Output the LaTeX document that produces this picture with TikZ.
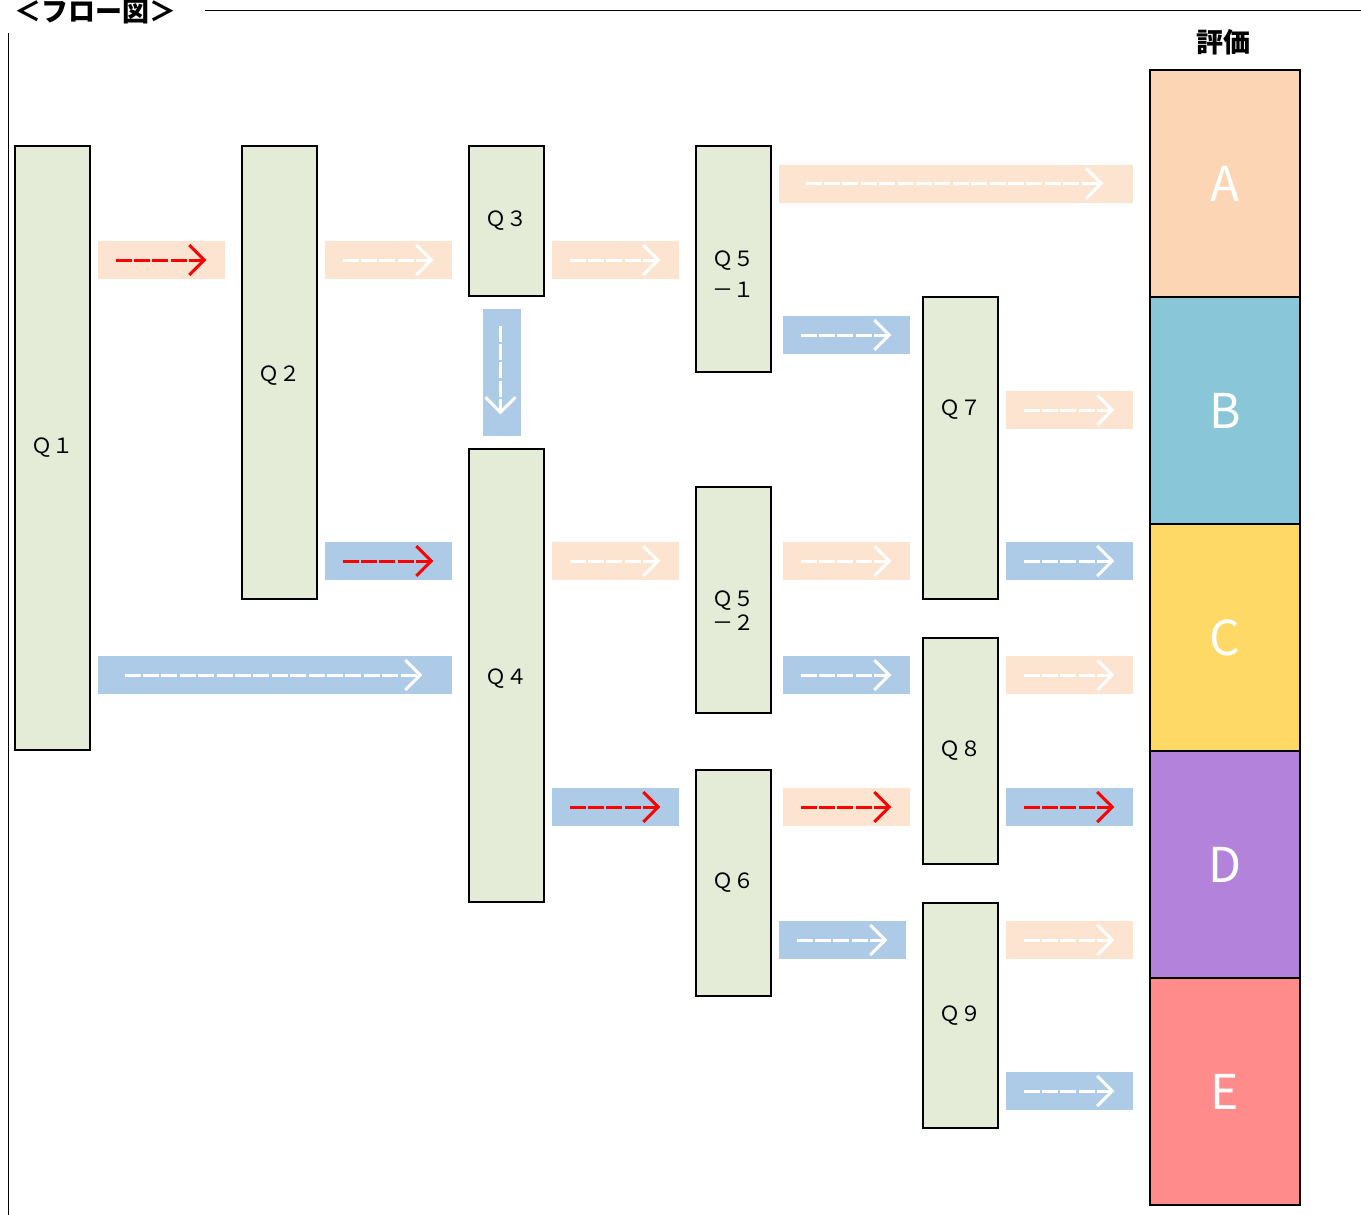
\documentclass[tikz,border=0pt]{standalone}
\usepackage{fontspec}
\setmainfont{Noto Sans CJK JP}
\usetikzlibrary{arrows.meta,calc}

\definecolor{qgreen}{HTML}{E4ECD7}
\definecolor{bandpeach}{HTML}{FCE4D1}
\definecolor{bandblue}{HTML}{ADCBE7}
\definecolor{evalA}{HTML}{FCD5B5}
\definecolor{evalB}{HTML}{88C6D8}
\definecolor{evalC}{HTML}{FFD966}
\definecolor{evalD}{HTML}{B383DC}
\definecolor{evalE}{HTML}{FF8B8A}

\tikzset{
  qbox/.style={draw=black, line width=0.6pt, fill=qgreen, minimum width=37.5pt, inner sep=0pt},
  qlabel/.style={font=\fontsize{10.5}{13}\selectfont, inner sep=0pt},
  evalbox/.style={draw=black, line width=0.7pt, minimum width=75pt, minimum height=113.5pt,
    inner sep=0pt, text=white, font=\fontsize{24}{28}\selectfont},
  peach/.style={fill=bandpeach},
  blueband/.style={fill=bandblue},
  flowarrow/.style={line width=1.5pt, dash pattern=on 8pt off 1.2pt,
    -{Straight Barb[length=7.5pt,width=15pt]}},
  longarrow/.style={shorten <=4.5pt, shorten >=5.5pt},
  headtext/.style={font=\bfseries\fontsize{13.5}{16}\selectfont, inner sep=0pt}
}

% band with dashed arrow between two boxes
% #1 left gap, #2 from, #3 to, #4 y, #5 band, #6 arrow
\newcommand{\flowband}[6][7]
{
\pgfmathsetmacro\rgap{23-#1}
\coordinate (fs) at ($(#2.east |- 0,#4)+(#1,0)$);
\coordinate (fe) at ($(#3.west |- 0,#4)+(-\rgap,0)$);
\fill[#5] ($(fs)+(0,-19)$) rectangle ($(fe)+(0,19)$);
\draw[flowarrow,#6] ($(fs)+(18,0)$) -- ($(fe)+(-19,0)$);
}

\begin{document}
\begin{tikzpicture}[x=0.5pt,y=-0.5pt]
\useasboundingbox (0,0) rectangle (1361,1215);

% frame
\node[headtext, anchor=west] (title) at (14,12) {＜フロー図＞};
\draw[line width=0.5pt] (205,10) -- (1361,10);
\draw[line width=0.5pt] (8,33) -- (8,1215);

% question boxes
\node[qbox, minimum height=302pt, label={[qlabel]center:Ｑ１}] (Q1) at (52.5,448) {};
\node[qbox, minimum height=226.5pt, label={[qlabel, yshift=-1.75pt]center:Ｑ２}] (Q2) at (279.5,372.5) {};
\node[qbox, minimum height=75pt, label={[qlabel]center:Ｑ３}] (Q3) at (506.5,221) {};
\node[qbox, minimum height=226.5pt, label={[qlabel, yshift=-1.75pt]center:Ｑ４}] (Q4) at (506.5,675.5) {};
\node[qbox, minimum height=113pt, label={[qlabel, align=center, yshift=-7.75pt,
  font=\fontsize{10.5}{15.5}\selectfont]center:{Ｑ５\\－１}}] (Q51) at (733.5,259) {};
\node[qbox, minimum height=113pt, label={[qlabel, align=center, yshift=-5.5pt,
  font=\fontsize{10.5}{12}\selectfont]center:{Ｑ５\\－２}}] (Q52) at (733.5,600) {};
\node[qbox, minimum height=113pt, label={[qlabel]center:Ｑ６}] (Q6) at (733.5,883) {};
\node[qbox, minimum height=151pt, label={[qlabel, yshift=19pt]center:Ｑ７}] (Q7) at (960.5,448) {};
\node[qbox, minimum height=113pt, label={[qlabel]center:Ｑ８}] (Q8) at (960.5,751) {};
\node[qbox, minimum height=112.5pt, label={[qlabel]center:Ｑ９}] (Q9) at (960.5,1015.5) {};

% evaluation
\node[headtext] (evalhead) at (1223,42) {評価};
\node[evalbox, fill=evalA] (A) at (1225,183.5) {A};
\node[evalbox, fill=evalB] (B) at (1225,410.5) {B};
\node[evalbox, fill=evalC] (C) at (1225,637.5) {C};
\node[evalbox, fill=evalD] (D) at (1225,864.5) {D};
\node[evalbox, fill=evalE] (E) at (1225,1091.5) {E};

% yes / no bands
\flowband{Q1}{Q2}{260}{peach}{red}
\flowband{Q2}{Q3}{260}{peach}{white}
\flowband{Q3}{Q51}{260}{peach}{white}
\flowband{Q51}{A}{183.5}{peach}{white,longarrow}
\flowband[11]{Q51}{Q7}{335}{blueband}{white}
\flowband{Q2}{Q4}{561}{blueband}{red}
\flowband{Q1}{Q4}{675}{blueband}{white,longarrow}
\flowband{Q4}{Q52}{561}{peach}{white}
\flowband{Q4}{Q6}{807}{blueband}{red}
\flowband[11]{Q52}{Q7}{561}{peach}{white}
\flowband[11]{Q52}{Q8}{675}{blueband}{white}
\flowband[11]{Q6}{Q8}{807}{peach}{red}
\flowband{Q6}{Q9}{940}{blueband}{white}
\flowband{Q7}{B}{410}{peach}{white}
\flowband{Q7}{C}{561}{blueband}{white}
\flowband{Q8}{C}{675}{peach}{white}
\flowband{Q8}{D}{807}{blueband}{red}
\flowband{Q9}{D}{940}{peach}{white}
\flowband{Q9}{E}{1091}{blueband}{white}

% Q3 down to Q4
\fill[blueband] ($(Q3.south)+(-23.5,12)$) rectangle ($(Q4.north)+(14.5,-12)$);
\draw[flowarrow,white] ($(Q3.south)+(-6,29)$) -- ($(Q4.north)+(-6,-34)$);

\end{tikzpicture}
\end{document}
